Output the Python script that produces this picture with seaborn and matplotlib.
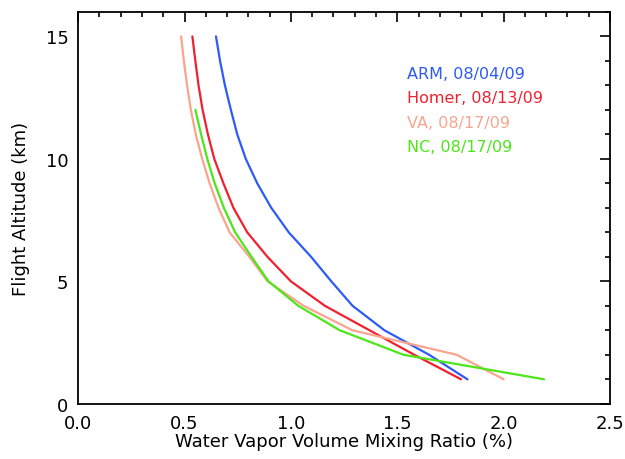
import matplotlib
matplotlib.use('Agg')
import matplotlib.pyplot as plt
import seaborn as sns
import pandas as pd
from matplotlib.ticker import MultipleLocator, FormatStrFormatter

# Profile data (altitude in km, mixing ratio in %)
alt_full = [15, 14, 13, 12, 11, 10, 9, 8, 7, 6, 5, 4, 3, 2, 1]
alt_nc = [12, 11, 10, 9, 8, 7, 6, 5, 4, 3, 2, 1]

arm = [0.648, 0.667, 0.69, 0.718, 0.748, 0.788, 0.842, 0.908, 0.99, 1.095, 1.19, 1.29, 1.44, 1.65, 1.83]
homer = [0.537, 0.551, 0.566, 0.585, 0.61, 0.64, 0.683, 0.73, 0.795, 0.89, 1.0, 1.16, 1.37, 1.58, 1.80]
va = [0.484, 0.497, 0.512, 0.53, 0.553, 0.583, 0.618, 0.66, 0.712, 0.805, 0.89, 1.06, 1.29, 1.78, 2.00]
nc = [0.551, 0.578, 0.607, 0.642, 0.685, 0.738, 0.815, 0.895, 1.035, 1.23, 1.53, 2.19]

labels = ['ARM, 08/04/09', 'Homer, 08/13/09', 'VA, 08/17/09', 'NC, 08/17/09']
colors = ['#2E5BF5', '#F0202F', '#F9A58E', '#4CE61A']

frames = []
for lab, xs, ys in zip(labels, [arm, homer, va, nc], [alt_full, alt_full, alt_full, alt_nc]):
    frames.append(pd.DataFrame({'ratio': xs, 'alt': ys, 'site': lab}))
df = pd.concat(frames, ignore_index=True)

sns.set_style("white")
plt.rcParams['font.family'] = ['DejaVu Sans']
plt.rcParams['text.color'] = 'black'
plt.rcParams['axes.labelcolor'] = 'black'
plt.rcParams['xtick.color'] = 'black'
plt.rcParams['ytick.color'] = 'black'

fig, ax = plt.subplots(figsize=(6.25, 4.6), dpi=100)
fig.subplots_adjust(left=0.125, right=0.976, top=0.972, bottom=0.12)

sns.lineplot(data=df, x='ratio', y='alt', hue='site', palette=colors,
             sort=False, estimator=None, linewidth=1.6, legend=False, ax=ax)

# coloured text legend
for i, (lab, col) in enumerate(zip(labels, colors)):
    ax.text(1.545, 13.5 - i, lab, color=col, fontsize=11.5, va='center', ha='left')

ax.set_xlim(0, 2.5)
ax.set_ylim(0, 16)
ax.xaxis.set_major_locator(MultipleLocator(0.5))
ax.xaxis.set_minor_locator(MultipleLocator(0.1))
ax.yaxis.set_major_locator(MultipleLocator(5))
ax.yaxis.set_minor_locator(MultipleLocator(1))
ax.xaxis.set_major_formatter(FormatStrFormatter('%.1f'))

ax.tick_params(which='both', direction='in', top=True, right=True, width=1.2)
ax.tick_params(which='major', length=7)
ax.tick_params(which='minor', length=3.5)
ax.tick_params(axis='x', which='major', labelsize=13, pad=7)
ax.tick_params(axis='y', which='major', labelsize=13, pad=7)
for sp in ax.spines.values():
    sp.set_color('black')
    sp.set_linewidth(1.3)

ax.set_xlabel('Water Vapor Volume Mixing Ratio (%)', fontsize=13, labelpad=0)
ax.set_ylabel('Flight Altitude (km)', fontsize=13, labelpad=11)

plt.savefig('out.png', dpi=100)
